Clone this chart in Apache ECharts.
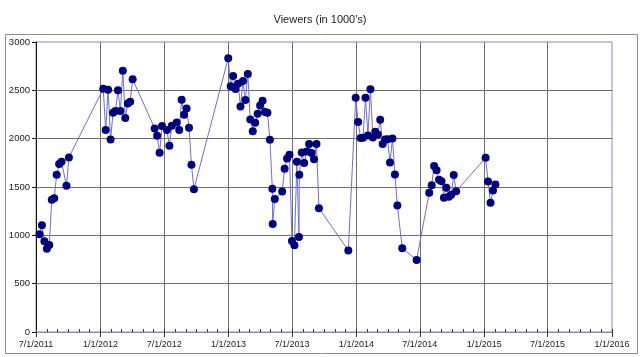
<!DOCTYPE html>
<html>
<head>
<meta charset="utf-8">
<script src="https://cdn.jsdelivr.net/npm/echarts@6/dist/echarts.min.js"></script>
<style>
html,body{margin:0;padding:0;background:#fff;}
#chart{width:640px;height:357px;}
</style>
</head>
<body>
<div id="chart"></div>
<script>
const titleText = "Viewers (in 1000's)";

const dates = [
  '2011-07-11','2011-07-18','2011-07-25','2011-08-01','2011-08-08','2011-08-15','2011-08-22','2011-08-29','2011-09-05','2011-09-12','2011-09-26','2011-10-03',
  '2012-01-09','2012-01-16','2012-01-23','2012-01-30','2012-02-06','2012-02-13','2012-02-20','2012-02-27','2012-03-05','2012-03-12','2012-03-19','2012-03-26','2012-04-02',
  '2012-06-04','2012-06-11','2012-06-18','2012-06-25','2012-07-09','2012-07-16','2012-07-23','2012-08-06','2012-08-13','2012-08-20','2012-08-27','2012-09-03','2012-09-10','2012-09-17','2012-09-24',
  '2012-12-31','2013-01-07','2013-01-14','2013-01-21','2013-01-28','2013-02-04','2013-02-11','2013-02-18','2013-02-25','2013-03-04','2013-03-11','2013-03-18','2013-03-25','2013-04-01','2013-04-08','2013-04-15','2013-04-22','2013-04-29','2013-05-06','2013-05-07','2013-05-13','2013-06-03','2013-06-10','2013-06-17','2013-06-24','2013-07-01','2013-07-08','2013-07-15','2013-07-21','2013-07-22','2013-07-29','2013-08-05','2013-08-12','2013-08-19','2013-08-26','2013-09-02','2013-09-09','2013-09-16',
  '2013-12-09','2013-12-30','2014-01-06','2014-01-13','2014-01-20','2014-01-27','2014-02-03','2014-02-10','2014-02-17','2014-02-24','2014-03-03','2014-03-10','2014-03-17','2014-03-24','2014-03-31','2014-04-07','2014-04-14','2014-04-21','2014-04-28','2014-05-12','2014-06-22',
  '2014-07-28','2014-08-04','2014-08-11','2014-08-18','2014-08-25','2014-09-01','2014-09-08','2014-09-15','2014-09-22','2014-09-29','2014-10-06','2014-10-13',
  '2015-01-05','2015-01-12','2015-01-19','2015-01-26','2015-02-02'
];

const viewers = [
  1012,1105,939,860,901,1367,1384,1626,1737,1760,1512,1806,
  2516,2089,2506,1992,2268,2285,2500,2285,2703,2213,2365,2382,2614,
  2106,2030,1854,2130,2089,1926,2133,2168,2089,2402,2247,2313,2112,1729,1478,
  2831,2541,2648,2513,2568,2334,2596,2399,2669,2199,2078,2164,2257,2344,2392,2275,2268,1988,1481,1118,1377,1454,1688,1795,1833,942,898,1760,984,1626,1858,1747,1868,1944,1851,1788,1944,1281,
  843,2423,2172,2006,2009,2423,2034,2510,2013,2071,2044,2195,1944,1992,1995,1754,2003,1630,1309,867,746,
  1440,1519,1716,1674,1574,1560,1388,1491,1398,1419,1623,1457,
  1802,1557,1336,1464,1526
];

const xTicks = ['2011-07-01','2012-01-01','2012-07-01','2013-01-01','2013-07-01','2014-01-01','2014-07-01','2015-01-01','2015-07-01','2016-01-01'];
const yMin = 0, yMax = 3000, yStep = 500;

function toTs(s){ const p = s.split('-').map(Number); return new Date(p[0], p[1]-1, p[2]).getTime(); }
function fmt(v){ const d = new Date(v); return (d.getMonth()+1) + '/' + d.getDate() + '/' + d.getFullYear(); }

const majorTs = xTicks.map(toTs);
const xMin = majorTs[0], xMax = majorTs[majorTs.length-1];
const minorTs = [];
{
  const s = new Date(xMin);
  for (let y = s.getFullYear(), m = s.getMonth(); ; m++) {
    const t = new Date(y, m, 1).getTime();
    if (t > xMax) break;
    minorTs.push(t);
  }
}

const seriesData = dates.map((d, i) => [toTs(d), viewers[i]]);

const FONT = 'Liberation Sans';
const PURPLE = '#8f84c6';
const GRID = '#6e6e6e';

const chart = echarts.init(document.getElementById('chart'), null, {renderer: 'canvas'});
chart.setOption({
  animation: false,
  backgroundColor: '#fff',
  title: {
    text: titleText,
    left: 'center',
    top: 9,
    textStyle: {fontFamily: FONT, fontSize: 11, fontWeight: 'normal', color: '#222'}
  },
  graphic: [{
    type: 'rect',
    left: 3, top: 32,
    shape: {width: 632, height: 319},
    style: {fill: 'none', stroke: '#8c8c8c', lineWidth: 1},
    z: -1
  }],
  grid: {
    left: 36, right: 28, top: 42, bottom: 25,
    show: true, borderColor: PURPLE, borderWidth: 1, backgroundColor: '#fff'
  },
  xAxis: [{
    type: 'value',
    position: 'bottom',
    min: xMin, max: xMax,
    axisLine: {show: true, lineStyle: {color: PURPLE, width: 1}},
    axisTick: {show: true, customValues: majorTs, length: 5, inside: false, lineStyle: {color: '#333'}},
    axisLabel: {show: true, customValues: majorTs, formatter: fmt, fontFamily: FONT, fontSize: 9, color: '#222', margin: 8, hideOverlap: false, showMinLabel: true, showMaxLabel: true},
    splitLine: {show: true, showMaxLine: false, lineStyle: {color: GRID, width: 1}}
  }, {
    type: 'value',
    position: 'bottom',
    min: xMin, max: xMax,
    axisLine: {show: false},
    axisTick: {show: true, customValues: minorTs, length: 3, inside: true, lineStyle: {color: '#333'}},
    axisLabel: {show: false},
    splitLine: {show: false}
  }],
  yAxis: [{
    type: 'value',
    min: yMin, max: yMax, interval: yStep,
    axisLine: {show: true, lineStyle: {color: '#111', width: 1}},
    axisTick: {show: true, length: 4, inside: false, lineStyle: {color: '#111'}},
    axisLabel: {fontFamily: FONT, fontSize: 9.5, color: '#222', margin: 6, formatter: v => String(v)},
    splitLine: {show: true, showMaxLine: false, lineStyle: {color: GRID, width: 1}}
  }],
  series: [{
    type: 'line',
    xAxisIndex: 0,
    data: seriesData,
    showSymbol: true,
    showAllSymbol: true,
    symbol: 'circle',
    symbolSize: 8,
    itemStyle: {color: '#00007f', borderWidth: 0},
    lineStyle: {color: '#6f6fd0', width: 1},
    z: 5
  }]
});
</script>
</body>
</html>
